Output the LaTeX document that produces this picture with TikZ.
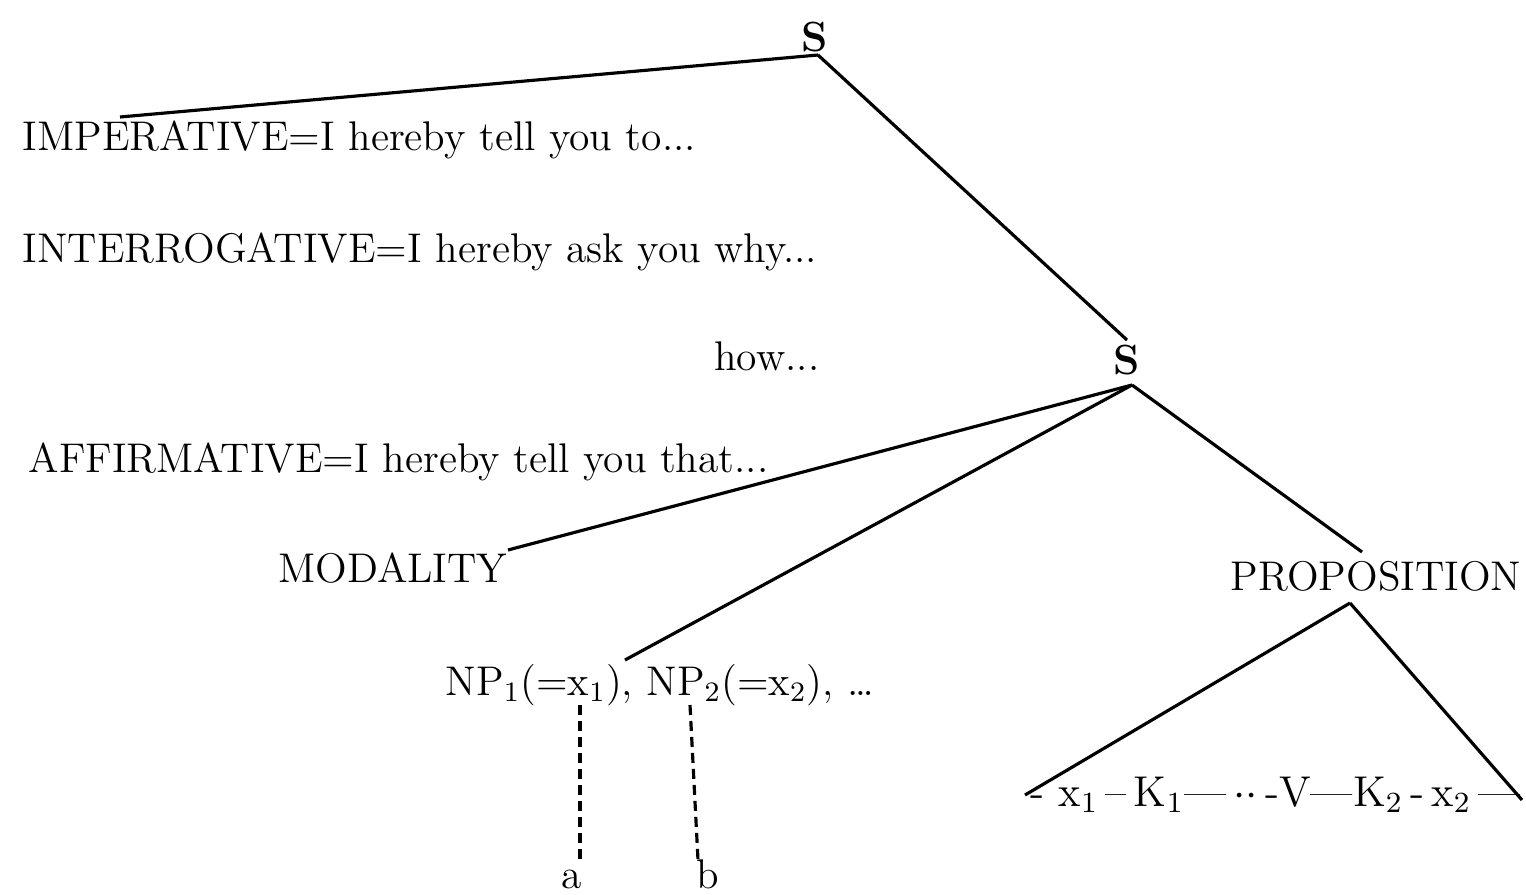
\documentclass[tikz,border=0pt]{standalone}
\begin{document}
\begin{tikzpicture}[x=0.1mm,y=-0.1mm,
  lbl/.style={inner sep=0pt,font=\fontsize{11.8}{13}\selectfont},
  br/.style={line width=0.9pt},
  dsh/.style={line width=0.9pt,dash pattern=on 1mm off 0.6mm}]
\useasboundingbox (0,0) rectangle (1526,894);
% texts
\node[lbl,font=\fontsize{12}{14}\selectfont\bfseries] (s1) at (815,37) {S};
\node[lbl,font=\fontsize{12}{14}\selectfont\bfseries] (s2) at (1127,360) {S};
\node[lbl,anchor=base west] (imp) at (22,150) {IMPERATIVE=I hereby tell you to...};
\node[lbl,anchor=base west] (int) at (22,262) {INTERROGATIVE=I hereby ask you why...};
\node[lbl,anchor=base east] (how) at (820,370) {how...};
\node[lbl,anchor=base west] (aff) at (28,472) {AFFIRMATIVE=I hereby tell you that...};
\node[lbl,anchor=base east] (mod) at (508,582) {MODALITY};
\node[lbl,anchor=base east] (prop) at (1522,590) {PROPOSITION};
\node[lbl,anchor=base west] (np) at (445,695) {NP$_1$(=x$_1$), NP$_2$(=x$_2$), \dots};
\node[lbl,anchor=base west] (bot) at (1030,806) {\resizebox{49mm}{!}{- x$_1$\,--\,K$_1$---\,$\cdot\cdot$\,-V---K$_2$\,-\,x$_2$\,---}};
\node[lbl,anchor=base] (a) at (572,888) {a};
\node[lbl,anchor=base] (b) at (708,888) {b};
% junction coordinates
\coordinate (j1) at (818,55);
\coordinate (impE) at (120,117);
\coordinate (s2t) at (1127,340);
\coordinate (j2) at (1132,385);
\coordinate (modE) at (508,550);
\coordinate (npE) at (625,660);
\coordinate (propT) at (1362,552);
\coordinate (propB) at (1350,603);
\coordinate (botL) at (1025,795);
\coordinate (botR) at (1522,800);
\coordinate (d1t) at (580,705);
\coordinate (d1b) at (580,860);
\coordinate (d2t) at (690,705);
\coordinate (d2b) at (698,860);
% branches
\draw[br] (j1) -- (impE);
\draw[br] (j1) -- (s2t);
\draw[br] (j2) -- (modE);
\draw[br] (j2) -- (npE);
\draw[br] (j2) -- (propT);
\draw[br] (propB) -- (botL);
\draw[br] (propB) -- (botR);
\draw[dsh] (d1t) -- (d1b);
\draw[dsh] (d2t) -- (d2b);
\end{tikzpicture}
\end{document}
